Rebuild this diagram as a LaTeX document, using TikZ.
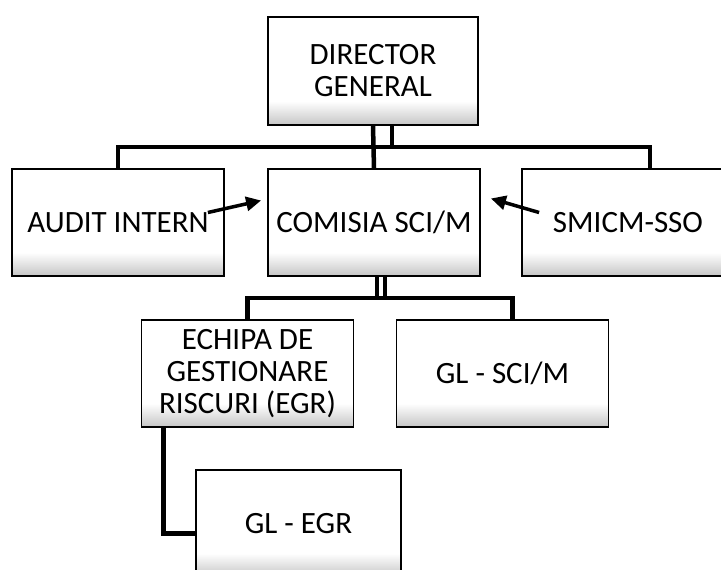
\documentclass[tikz,border=0pt]{standalone}
\usepackage{fontspec}
\setmainfont{Carlito}
\usepackage{xcolor}
\usetikzlibrary{
    arrows.meta,
    positioning,
    calc
}
\definecolor{scangray}{RGB}{150,150,150}
\pgfdeclareverticalshading{scanfade}{100bp}{color(0bp)=(scangray!85); color(25bp)=(scangray!55); color(36bp)=(white); color(100bp)=(white)}

\begin{document}
\begin{tikzpicture}[
        x=1pt, y=1pt,
        block/.style={draw, line width=1.8pt, minimum width=212pt, minimum height=107pt, inner sep=0pt, align=center,
            shade, shading=scanfade, font=\fontsize{31}{32}\selectfont},
        link/.style={line width=4.5pt},
        arrow/.style={-{Triangle[length=15pt,width=14pt]}, line width=3.5pt}
    ]
        \useasboundingbox (0,0) rectangle (721,-570);

        % Director
        \node[block, minimum width=210pt, minimum height=108pt] (director) at (373,-71) {DIRECTOR\\GENERAL};

        % Middle row
        \node[block] (audit) at (118,-222.5) {AUDIT INTERN};
        \node[block] (comisia) at (374,-222.5) {COMISIA SCI/M};
        \node[block] (smicm) at (628,-222.5) {SMICM-SSO};

        % Lower rows
        \node[block] (echipa) at (247.5,-373.5) {ECHIPA DE\\GESTIONARE\\RISCURI (EGR)};
        \node[block] (glsci) at (502.5,-373.5) {GL - SCI/M};
        \node[block, minimum width=205pt] (glegr) at (298.5,-523.5) {GL - EGR};

        % Links
        \draw[link] (director.south) -- (comisia.north);
        \draw[link] ([xshift=19pt]director.south) -- ++(0,-23);
        \draw[link] (audit.north) -- ++(0,21) -| ([xshift=22pt]smicm.north);
        \draw[link] ([xshift=3pt]comisia.south) -- ++(0,-23);
        \draw[link] ([xshift=11pt]comisia.south) -- ++(0,-23);
        \draw[link] (echipa.north) -- ++(0,21) -| ([xshift=10pt]glsci.north);
        \draw[link] ([xshift=-84pt]echipa.south) |- ([yshift=-10pt]glegr.west);

        % Arrows
        \draw[arrow] ([xshift=-17pt,yshift=10pt]audit.east) -- ([xshift=-6pt,yshift=22pt]comisia.west);
        \draw[arrow] ([xshift=18pt,yshift=10pt]smicm.west) -- ([xshift=10pt,yshift=24pt]comisia.east);

    \end{tikzpicture}
\end{document}
